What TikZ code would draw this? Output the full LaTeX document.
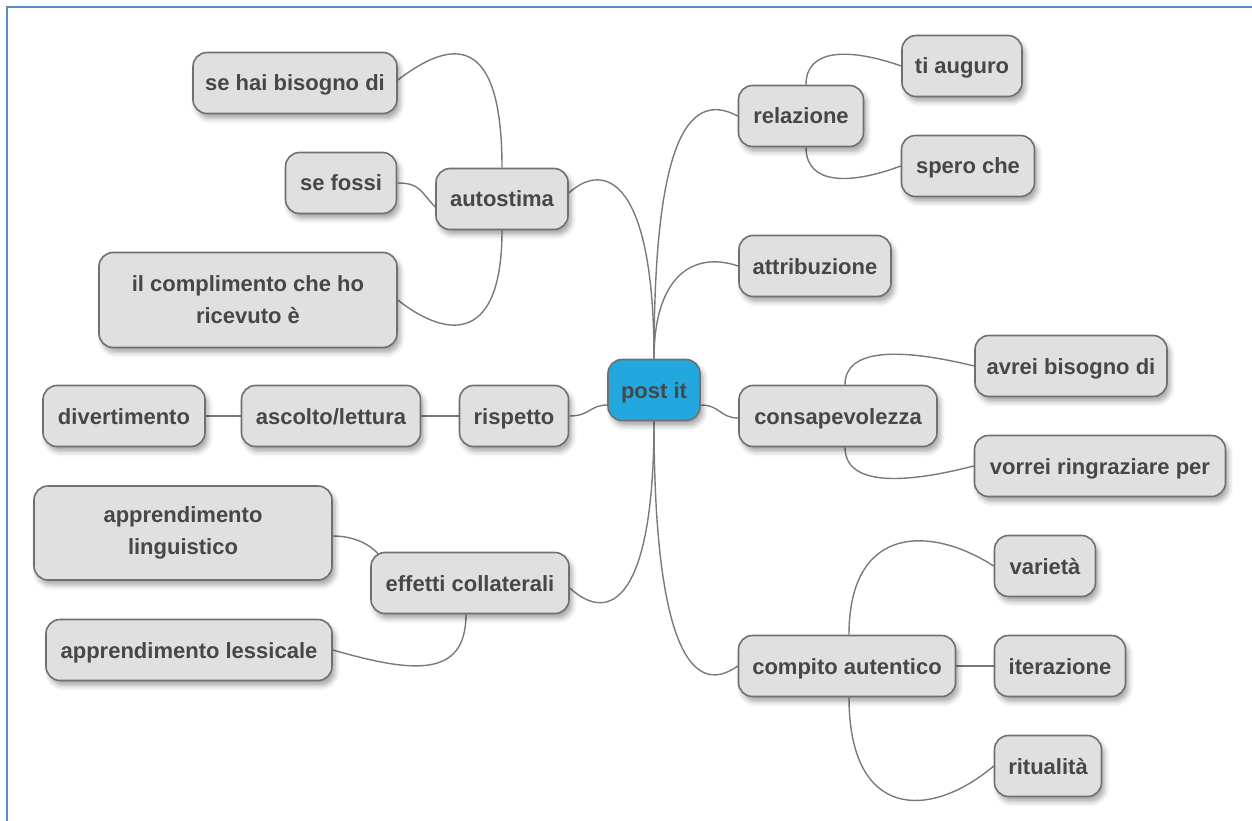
\documentclass[tikz,border=0pt]{standalone}
\usepackage{fontspec}
\setmainfont{Liberation Sans}
\usetikzlibrary{shadows.blur}
\definecolor{boxfill}{HTML}{E0E0E0}
\definecolor{boxline}{HTML}{707070}
\definecolor{txt}{HTML}{474747}
\definecolor{postfill}{HTML}{22A7DF}
\definecolor{connc}{HTML}{7A7A7A}
\definecolor{frame}{HTML}{5B8BC9}
\pgfdeclarelayer{bg}
\pgfsetlayers{bg,main}
\tikzset{
  box/.style={rectangle, rounded corners=14pt, draw=boxline, line width=1.6pt,
    fill=boxfill, text=txt, font=\bfseries\fontsize{22}{32}\selectfont,
    inner sep=0pt, minimum height=61pt, align=center,
    blur shadow={shadow xshift=3pt, shadow yshift=-5pt, shadow blur radius=5pt, shadow opacity=35}},
  sbox/.style={box, text height=16pt, text depth=0pt},
  rootbox/.style={sbox, fill=postfill},
  conn/.style={draw=connc, line width=1.4pt}
}
\begin{document}
\begin{tikzpicture}[x=1pt,y=-1pt]
\useasboundingbox (0,0) rectangle (1252,821);
\draw[frame, line width=2pt] (7,821) -- (7,7) -- (1252,7);

% nodes
\node[rootbox, minimum width=92pt] (post) at (654,390) {post it};
\node[sbox, minimum width=125pt] (rel) at (801,116) {relazione};
\node[sbox, minimum width=120pt] (ti) at (962,66) {ti auguro};
\node[sbox, minimum width=133pt] (spero) at (968,166) {spero che};
\node[sbox, minimum width=152pt] (attr) at (815,266) {attribuzione};
\node[sbox, minimum width=198pt] (cons) at (838,416) {consapevolezza};
\node[sbox, minimum width=192pt] (avrei) at (1071,366) {avrei bisogno di};
\node[sbox, minimum width=251pt] (vorrei) at (1100,466) {vorrei ringraziare per};
\node[sbox, minimum width=217pt] (comp) at (847,666) {compito autentico};
\node[sbox, minimum width=101pt] (var) at (1045,566) {varietà};
\node[sbox, minimum width=131pt] (iter) at (1060,666) {iterazione};
\node[sbox, minimum width=107pt] (rit) at (1048,766) {ritualità};
\node[sbox, minimum width=132pt] (auto) at (502,199) {autostima};
\node[sbox, minimum width=204pt] (sehai) at (295,83) {se hai bisogno di};
\node[sbox, minimum width=111pt] (fossi) at (341,183) {se fossi};
\node[box, minimum width=298pt, minimum height=95pt] (compl) at (248,300) {il complimento che ho\\ricevuto è};
\node[sbox, minimum width=109pt] (risp) at (514,416) {rispetto};
\node[sbox, minimum width=179pt] (asc) at (331,416) {ascolto/lettura};
\node[sbox, minimum width=162pt] (div) at (124,416) {divertimento};
\node[sbox, minimum width=198pt] (eff) at (470,583) {effetti collaterali};
\node[box, minimum width=298pt, minimum height=94pt] (ling) at (183,533) {apprendimento\\linguistico};
\node[sbox, minimum width=286pt] (less) at (189,650) {apprendimento lessicale};

% connectors (drawn behind nodes)
\begin{pgfonlayer}{bg}
\draw[conn] (post.north) .. controls (654,150) and (685,88) .. (rel.west);
\draw[conn] (post.north) .. controls (654,280) and (690,250) .. (attr.west);
\draw[conn] (post.north) .. controls (654,180) and (605,160) .. ([yshift=6pt]auto.east);
\draw[conn] ([yshift=-15pt]post.east) .. controls (720,405) and (720,418) .. ([yshift=-2pt]cons.west);
\draw[conn] ([yshift=-15pt]post.west) .. controls (590,405) and (590,416) .. (risp.east);
\draw[conn] (post.south) .. controls (654,640) and (690,700) .. (comp.west);
\draw[conn] (post.south) .. controls (654,600) and (610,625) .. ([yshift=-5pt]eff.east);

\draw[conn] ([xshift=5pt]rel.north) .. controls (806,48) and (850,48) .. (ti.west);
\draw[conn] ([xshift=5pt]rel.south) .. controls (806,185) and (850,185) .. (spero.west);
\draw[conn] ([xshift=7pt]cons.north) .. controls (845,348) and (900,348) .. (avrei.west);
\draw[conn] ([xshift=7pt]cons.south) .. controls (845,485) and (900,485) .. (vorrei.west);
\draw[conn] ([xshift=2pt]comp.north) .. controls (849,525) and (930,525) .. (var.west);
\draw[conn] (comp.east) -- (iter.west);
\draw[conn] ([xshift=2pt]comp.south) .. controls (849,820) and (930,820) .. (rit.west);

\draw[conn] (auto.north) .. controls (502,30) and (450,40) .. ([yshift=3pt]sehai.east);
\draw[conn] (fossi.east) .. controls (420,183) and (420,191) .. ([yshift=-8pt]auto.west);
\draw[conn] (auto.south) .. controls (502,341) and (450,341) .. (compl.east);

\draw[conn] (risp.west) -- (asc.east);
\draw[conn] (asc.west) -- (div.east);

\draw[conn] ([xshift=-4pt]eff.south) .. controls (466,680) and (410,672) .. (less.east);
\draw[conn] ([yshift=-3pt]ling.east) .. controls (355,536) and (370,545) .. ([xshift=8pt,yshift=-2pt]eff.north west);
\end{pgfonlayer}
\end{tikzpicture}
\end{document}
